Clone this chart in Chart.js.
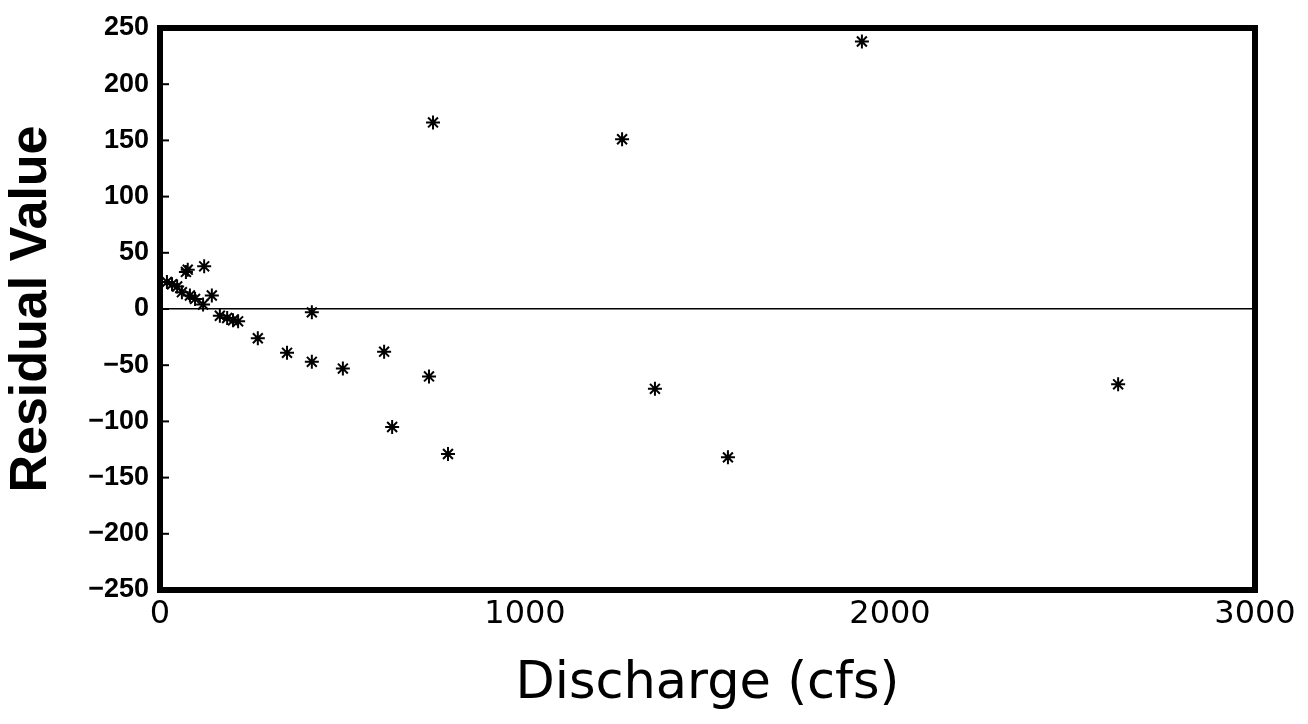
<!DOCTYPE html>
<html>
<head>
<meta charset="utf-8">
<script src="https://cdn.jsdelivr.net/npm/chart.js@4/dist/chart.umd.min.js"></script>
<style>
  html, body { margin: 0; padding: 0; background: #fff; }
  #wrap { width: 1308px; height: 724px; }
</style>
</head>
<body>
<div id="wrap"><canvas id="myChart"></canvas></div>
<script>
// discharge (cfs) and residual values
const discharge = [
  19, 33, 47, 60, 71, 76, 82, 96, 118, 121, 142,
  164, 184, 200, 214,
  268, 348, 416, 416, 501, 614, 636, 737, 748, 789,
  1266, 1356, 1556, 1923, 2625
];
const residual = [
  24, 22, 20, 15, 33, 35, 12, 9, 4, 38, 12,
  -6, -8, -10, -11,
  -26, -39, -3, -47, -53, -38, -105, -60, 166, -129,
  151, -71, -132, 238, -67
];
const yTicks = [250, 200, 150, 100, 50, 0, -50, -100, -150, -200, -250];
const xTicks = [0, 1000, 2000, 3000];

const points = discharge.map((d, i) => ({ x: d, y: residual[i] }));

// heavy frame round the plot + short inside ticks on the left
const framePlugin = {
  id: "frame",
  afterDraw(chart) {
    const { ctx, chartArea: a, scales } = chart;
    ctx.save();
    ctx.strokeStyle = "#000";
    ctx.lineWidth = 6;
    ctx.strokeRect(a.left, a.top, a.right - a.left, a.bottom - a.top);
    ctx.lineWidth = 2;
    yTicks.forEach(v => {
      const y = scales.y.getPixelForValue(v);
      ctx.beginPath();
      ctx.moveTo(a.left, y);
      ctx.lineTo(a.left + 9, y);
      ctx.stroke();
    });
    ctx.restore();
  }
};

Chart.defaults.color = "#000";
Chart.defaults.font.family = "'DejaVu Sans', sans-serif";

new Chart(document.getElementById("myChart"), {
  type: "scatter",
  data: {
    datasets: [{
      data: points,
      pointStyle: "star",
      radius: 7,
      borderWidth: 2,
      borderColor: "#000",
      backgroundColor: "#000",
    }],
  },
  options: {
    responsive: true,
    maintainAspectRatio: false,
    animation: false,
    layout: { padding: { left: 0, right: 53, top: 28, bottom: 0 } },
    plugins: { legend: { display: false }, tooltip: { enabled: false } },
    scales: {
      x: {
        type: "linear",
        min: 0,
        max: 3000,
        afterBuildTicks: (s) => { s.ticks = xTicks.map(v => ({ value: v })); },
        afterFit: (s) => { s.height = 134; },
        grid: { display: false, drawTicks: false },
        border: { display: false },
        ticks: { padding: 5, font: { size: 32 }, maxRotation: 0, callback: (v) => String(v) },
        title: {
          display: true,
          text: "Discharge (cfs)",
          font: { size: 51 },
          padding: { top: 4, bottom: 9 },
        },
      },
      y: {
        min: -250,
        max: 250,
        afterBuildTicks: (s) => { s.ticks = yTicks.map(v => ({ value: v })); },
        afterFit: (s) => { s.width = 160; },
        grid: {
          drawTicks: false,
          color: (c) => (c.tick && c.tick.value === 0 ? "#000" : "rgba(0,0,0,0)"),
          lineWidth: 1.5,
        },
        border: { display: false },
        ticks: {
          padding: 11,
          font: { size: 27, weight: "bold", family: "'Liberation Sans', Arial, sans-serif" },
          callback: (v) => (v < 0 ? "\u2212" + Math.abs(v) : String(v)),
        },
        title: {
          display: true,
          text: "Residual Value",
          font: { size: 52, weight: "bold", family: "'Liberation Sans', Arial, sans-serif" },
          padding: { top: 0, bottom: 0 },
        },
      },
    },
  },
  plugins: [framePlugin],
});
</script>
</body>
</html>
